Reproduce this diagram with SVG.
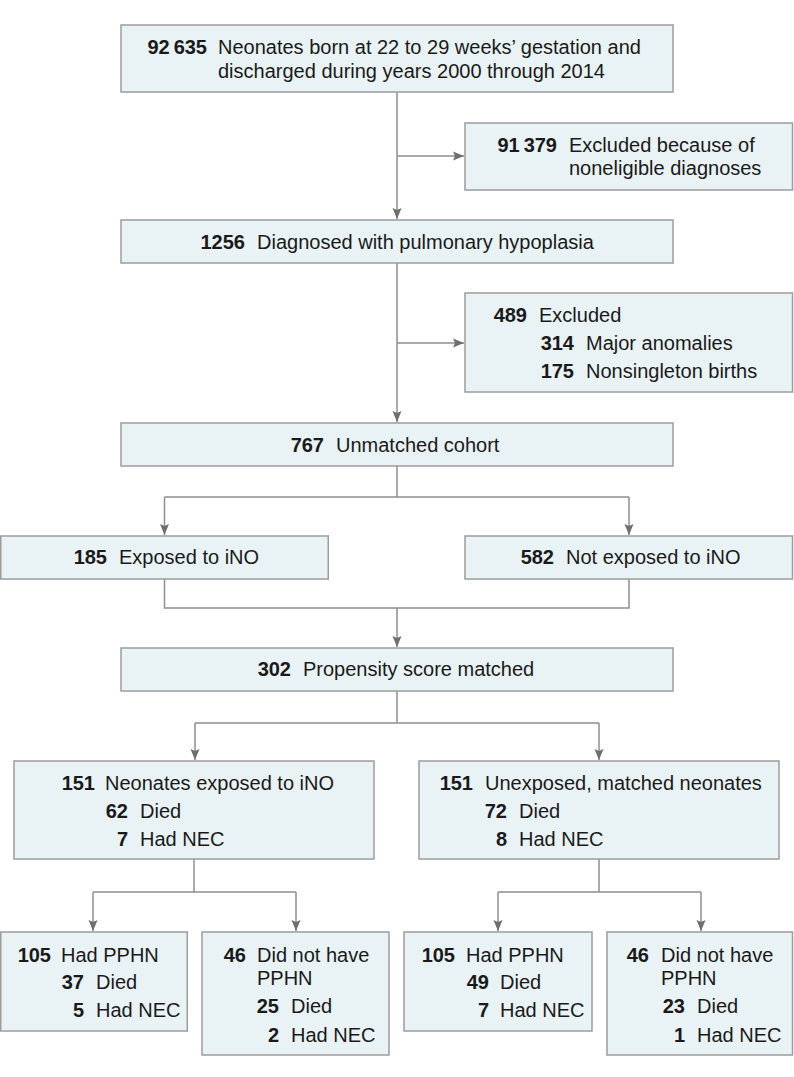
<svg xmlns="http://www.w3.org/2000/svg" width="794" height="1077" viewBox="0 0 794 1077">
<style>
.box{fill:#e9f3f5;stroke:#9c9c9c;stroke-width:1.5}
text{font-family:"Liberation Sans",Arial,sans-serif;font-size:20px;fill:#1a1a1a}
.n{font-weight:bold;text-anchor:end}
.c{fill:none;stroke:#8e8e8e;stroke-width:1.5}
</style>
<defs>
<marker id="ah" markerUnits="userSpaceOnUse" markerWidth="12" markerHeight="12" viewBox="0 0 12 12" refX="11" refY="6" orient="auto">
<path d="M0,1.5 L11,6 L0,10.5 L2,6 Z" fill="#6e6e6e"/>
</marker>
</defs>
<rect width="794" height="1077" fill="#ffffff"/>
<g id="connectors">
<path class="c" d="M397,92 V219" marker-end="url(#ah)"/>
<path class="c" d="M397,156 H464" marker-end="url(#ah)"/>
<path class="c" d="M397,263 V422" marker-end="url(#ah)"/>
<path class="c" d="M397,343 H464" marker-end="url(#ah)"/>
<path class="c" d="M397,466 V497 M164.5,497 H629"/>
<path class="c" d="M164.5,497 V535" marker-end="url(#ah)"/>
<path class="c" d="M629,497 V535" marker-end="url(#ah)"/>
<path class="c" d="M164.5,579 V608 H629 V579"/>
<path class="c" d="M397,608 V647" marker-end="url(#ah)"/>
<path class="c" d="M397,691 V723 M195,723 H599"/>
<path class="c" d="M195,723 V760" marker-end="url(#ah)"/>
<path class="c" d="M599,723 V760" marker-end="url(#ah)"/>
<path class="c" d="M194,859 V892 M93,892 H296"/>
<path class="c" d="M93,892 V931" marker-end="url(#ah)"/>
<path class="c" d="M296,892 V931" marker-end="url(#ah)"/>
<path class="c" d="M599,859 V892 M498,892 H701"/>
<path class="c" d="M498,892 V931" marker-end="url(#ah)"/>
<path class="c" d="M701,892 V931" marker-end="url(#ah)"/>
</g>
<g id="born">
<rect class="box" x="121" y="25" width="552" height="67"/>
<text class="n" x="207" y="54">92&#8201;635</text>
<text x="218" y="54">Neonates born at 22 to 29 weeks’ gestation and</text>
<text x="218" y="78">discharged during years 2000 through 2014</text>
</g>
<g id="excluded1">
<rect class="box" x="465" y="123" width="327.5" height="67"/>
<text class="n" x="557" y="152">91&#8201;379</text>
<text x="569" y="152">Excluded because of</text>
<text x="569" y="175">noneligible diagnoses</text>
</g>
<g id="diagnosed">
<rect class="box" x="121" y="220" width="552" height="43"/>
<text class="n" x="245" y="249">1256</text>
<text x="257" y="249">Diagnosed with pulmonary hypoplasia</text>
</g>
<g id="excluded2">
<rect class="box" x="465" y="293" width="327.5" height="99"/>
<text class="n" x="527" y="322">489</text>
<text x="539" y="322">Excluded</text>
<text class="n" x="574" y="350">314</text>
<text x="586" y="350">Major anomalies</text>
<text class="n" x="574" y="378">175</text>
<text x="586" y="378">Nonsingleton births</text>
</g>
<g id="unmatched">
<rect class="box" x="121" y="423" width="552" height="43"/>
<text class="n" x="324" y="452">767</text>
<text x="336" y="452">Unmatched cohort</text>
</g>
<g id="exposed">
<rect class="box" x="0.75" y="536" width="327.5" height="43"/>
<text class="n" x="107" y="564">185</text>
<text x="119" y="564">Exposed to iNO</text>
</g>
<g id="notexposed">
<rect class="box" x="465" y="536" width="327.5" height="43"/>
<text class="n" x="554" y="564">582</text>
<text x="566" y="564">Not exposed to iNO</text>
</g>
<g id="matched">
<rect class="box" x="121" y="648" width="552" height="43"/>
<text class="n" x="291" y="676">302</text>
<text x="303" y="676">Propensity score matched</text>
</g>
<g id="matched-exposed">
<rect class="box" x="14" y="761" width="360" height="98"/>
<text class="n" x="95" y="790">151</text>
<text x="105" y="790">Neonates exposed to iNO</text>
<text class="n" x="128" y="818">62</text>
<text x="140" y="818">Died</text>
<text class="n" x="128" y="846">7</text>
<text x="140" y="846">Had NEC</text>
</g>
<g id="matched-unexposed">
<rect class="box" x="419" y="761" width="360" height="98"/>
<text class="n" x="473" y="790">151</text>
<text x="485" y="790">Unexposed, matched neonates</text>
<text class="n" x="507" y="818">72</text>
<text x="519" y="818">Died</text>
<text class="n" x="507" y="846">8</text>
<text x="519" y="846">Had NEC</text>
</g>
<g id="exposed-pphn">
<rect class="box" x="0.75" y="932" width="186.5" height="99"/>
<text class="n" x="51" y="962">105</text>
<text x="61" y="962">Had PPHN</text>
<text class="n" x="84" y="989">37</text>
<text x="96" y="989">Died</text>
<text class="n" x="84" y="1017">5</text>
<text x="96" y="1017">Had NEC</text>
</g>
<g id="exposed-nopphn">
<rect class="box" x="202" y="932" width="187" height="123"/>
<text class="n" x="246" y="962">46</text>
<text x="257" y="962">Did not have</text>
<text x="257" y="985">PPHN</text>
<text class="n" x="279" y="1013">25</text>
<text x="291" y="1013">Died</text>
<text class="n" x="279" y="1042">2</text>
<text x="291" y="1042">Had NEC</text>
</g>
<g id="unexposed-pphn">
<rect class="box" x="404" y="932" width="188" height="99"/>
<text class="n" x="455" y="962">105</text>
<text x="466" y="962">Had PPHN</text>
<text class="n" x="489" y="989">49</text>
<text x="500" y="989">Died</text>
<text class="n" x="489" y="1017">7</text>
<text x="500" y="1017">Had NEC</text>
</g>
<g id="unexposed-nopphn">
<rect class="box" x="607" y="932" width="185.5" height="123"/>
<text class="n" x="649" y="962">46</text>
<text x="661" y="962">Did not have</text>
<text x="661" y="985">PPHN</text>
<text class="n" x="685" y="1013">23</text>
<text x="697" y="1013">Died</text>
<text class="n" x="685" y="1042">1</text>
<text x="697" y="1042">Had NEC</text>
</g>
</svg>
